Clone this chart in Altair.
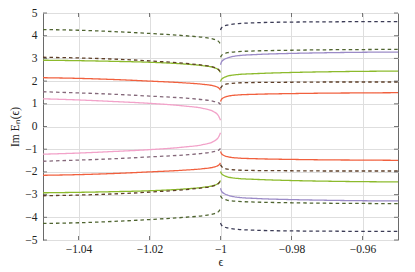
import altair as alt
import pandas as pd

# sample positions (epsilon)
eps_left = [-1.05, -1.04, -1.03, -1.02, -1.01, -1.005, -1.002, -1.0005, -1.0]
eps_right = [-1.0, -0.9997, -0.999, -0.998, -0.995, -0.99, -0.98, -0.97, -0.96, -0.95]

# left branch (epsilon < -1)
olive_left_up = [4.27, 4.24, 4.18, 4.10, 4.00, 3.93, 3.85, 3.74, 3.62]
olive_left_dn = [-4.27, -4.24, -4.18, -4.10, -4.00, -3.93, -3.85, -3.74, -3.62]
brown_left_up = [3.05, 3.02, 2.97, 2.89, 2.78, 2.70, 2.62, 2.50, 2.38]
brown_left_dn = [-3.05, -3.02, -2.97, -2.89, -2.78, -2.70, -2.62, -2.50, -2.38]
green_left_up = [2.92, 2.90, 2.87, 2.83, 2.75, 2.68, 2.60, 2.49, 2.38]
green_left_dn = [-2.92, -2.90, -2.87, -2.83, -2.75, -2.68, -2.60, -2.49, -2.38]
red_left_up = [2.15, 2.12, 2.07, 2.00, 1.92, 1.86, 1.79, 1.70, 1.60]
red_left_dn = [-2.15, -2.12, -2.07, -2.00, -1.92, -1.86, -1.79, -1.70, -1.60]
mauve_left_up = [1.53, 1.48, 1.42, 1.34, 1.25, 1.18, 1.11, 1.04, 0.97]
mauve_left_dn = [-1.53, -1.48, -1.42, -1.34, -1.25, -1.18, -1.11, -1.04, -0.97]
pink_left_up = [1.22, 1.17, 1.10, 1.02, 0.90, 0.80, 0.66, 0.45, 0.28]
pink_left_dn = [-1.22, -1.17, -1.10, -1.02, -0.90, -0.80, -0.66, -0.45, -0.28]

# right branch (epsilon > -1)
navy_right_up = [4.25, 4.35, 4.42, 4.47, 4.53, 4.57, 4.60, 4.61, 4.62, 4.62]
navy_right_dn = [-4.25, -4.35, -4.42, -4.47, -4.53, -4.57, -4.60, -4.61, -4.62, -4.62]
olive_right_up = [3.05, 3.13, 3.20, 3.25, 3.30, 3.33, 3.36, 3.38, 3.39, 3.40]
olive_right_dn = [-3.05, -3.13, -3.20, -3.25, -3.30, -3.33, -3.36, -3.38, -3.39, -3.40]
purple_right_up = [2.72, 2.85, 2.95, 3.02, 3.12, 3.17, 3.22, 3.25, 3.27, 3.28]
purple_right_dn = [-2.72, -2.85, -2.95, -3.02, -3.12, -3.17, -3.22, -3.25, -3.27, -3.28]
green_right_up = [1.98, 2.08, 2.16, 2.22, 2.29, 2.33, 2.38, 2.41, 2.43, 2.44]
green_right_dn = [-1.98, -2.08, -2.16, -2.22, -2.29, -2.33, -2.38, -2.41, -2.43, -2.44]
brown_right_up = [1.68, 1.76, 1.84, 1.88, 1.92, 1.94, 1.95, 1.96, 1.96, 1.96]
brown_right_dn = [-1.68, -1.76, -1.84, -1.88, -1.92, -1.94, -1.95, -1.96, -1.96, -1.96]
red_right_up = [1.10, 1.20, 1.28, 1.33, 1.39, 1.42, 1.45, 1.47, 1.48, 1.49]
red_right_dn = [-1.10, -1.20, -1.28, -1.33, -1.39, -1.42, -1.45, -1.47, -1.48, -1.49]

x_ticks = [-1.04, -1.02, -1.0, -0.98, -0.96]
y_ticks = [-5, -4, -3, -2, -1, 0, 1, 2, 3, 4, 5]

groups = ["red", "green", "purple", "pink", "brown", "olive", "mauve", "navy"]
colors = ["#f1603e", "#8cba2c", "#9b8bc7", "#f2a2c9", "#5e3f28", "#4f6430", "#84687a", "#3b3b55"]

curves = [
    ("pink_l_u", "pink", "solid", eps_left, pink_left_up),
    ("pink_l_d", "pink", "solid", eps_left, pink_left_dn),
    ("red_l_u", "red", "solid", eps_left, red_left_up),
    ("red_l_d", "red", "solid", eps_left, red_left_dn),
    ("green_l_u", "green", "solid", eps_left, green_left_up),
    ("green_l_d", "green", "solid", eps_left, green_left_dn),
    ("red_r_u", "red", "solid", eps_right, red_right_up),
    ("red_r_d", "red", "solid", eps_right, red_right_dn),
    ("green_r_u", "green", "solid", eps_right, green_right_up),
    ("green_r_d", "green", "solid", eps_right, green_right_dn),
    ("purple_r_u", "purple", "solid", eps_right, purple_right_up),
    ("purple_r_d", "purple", "solid", eps_right, purple_right_dn),
    ("mauve_l_u", "mauve", "dashed", eps_left, mauve_left_up),
    ("mauve_l_d", "mauve", "dashed", eps_left, mauve_left_dn),
    ("brown_l_u", "brown", "dashed", eps_left, brown_left_up),
    ("brown_l_d", "brown", "dashed", eps_left, brown_left_dn),
    ("olive_l_u", "olive", "dashed", eps_left, olive_left_up),
    ("olive_l_d", "olive", "dashed", eps_left, olive_left_dn),
    ("brown_r_u", "brown", "dashed", eps_right, brown_right_up),
    ("brown_r_d", "brown", "dashed", eps_right, brown_right_dn),
    ("olive_r_u", "olive", "dashed", eps_right, olive_right_up),
    ("olive_r_d", "olive", "dashed", eps_right, olive_right_dn),
    ("navy_r_u", "navy", "dashed", eps_right, navy_right_up),
    ("navy_r_d", "navy", "dashed", eps_right, navy_right_dn),
]

rows = []
for k, (cid, grp, style, xs, ys) in enumerate(curves):
    for i, (x, y) in enumerate(zip(xs, ys)):
        rows.append({"id": cid, "layer": k, "group": grp, "style": style,
                     "eps": x, "val": y, "i": i})
df = pd.DataFrame(rows)

W, H = 355, 227
FONT = "Liberation Serif"

xscale = alt.Scale(domain=[-1.05, -0.95], nice=False, zero=False)
yscale = alt.Scale(domain=[-5, 5], nice=False, zero=False)

xaxis = alt.Axis(values=x_ticks, format=".2~f", title="ϵ", grid=True,
                 gridColor="#dedede", ticks=False, domain=False,
                 labelOverlap=False, labelFlush=False,
                 labelFont=FONT, labelFontSize=11.5, labelColor="#222",
                 labelPadding=3, titleFont=FONT, titleFontSize=12,
                 titleFontWeight="normal", titleColor="#222", titlePadding=2)
yaxis = alt.Axis(values=y_ticks, format="d", title="Im Eₙ(ϵ)", grid=True,
                 gridColor="#dedede", ticks=False, domain=False,
                 labelOverlap=False, labelFlush=False,
                 labelFont=FONT, labelFontSize=11.5, labelColor="#222",
                 labelPadding=6, titleFont=FONT, titleFontSize=11.5,
                 titleFontWeight="normal", titleColor="#222", titlePadding=4)

lines = alt.Chart(df).mark_line(strokeWidth=1.3, interpolate="monotone", clip=True).encode(
    x=alt.X("eps:Q", scale=xscale, axis=xaxis),
    y=alt.Y("val:Q", scale=yscale, axis=yaxis),
    color=alt.Color("group:N", scale=alt.Scale(domain=groups, range=colors), legend=None),
    strokeDash=alt.StrokeDash("style:N", scale=alt.Scale(domain=["solid", "dashed"],
                                                          range=[[1, 0], [3.5, 3]]), legend=None),
    detail="id:N",
    order="i:Q",
)

xt = pd.DataFrame({"eps": x_ticks})
yt = pd.DataFrame({"val": y_ticks})
tick_color = "#555"
xt_bottom = alt.Chart(xt).mark_rule(color=tick_color, strokeWidth=0.8).encode(
    x=alt.X("eps:Q", scale=xscale, axis=xaxis), y=alt.value(H), y2=alt.value(H - 4))
xt_top = alt.Chart(xt).mark_rule(color=tick_color, strokeWidth=0.8).encode(
    x=alt.X("eps:Q", scale=xscale, axis=xaxis), y=alt.value(0), y2=alt.value(4))
yt_left = alt.Chart(yt).mark_rule(color=tick_color, strokeWidth=0.8).encode(
    y=alt.Y("val:Q", scale=yscale, axis=yaxis), x=alt.value(0), x2=alt.value(4))
yt_right = alt.Chart(yt).mark_rule(color=tick_color, strokeWidth=0.8).encode(
    y=alt.Y("val:Q", scale=yscale, axis=yaxis), x=alt.value(W - 4), x2=alt.value(W))

chart = alt.layer(lines, xt_bottom, xt_top, yt_left, yt_right).properties(
    width=W, height=H,
    autosize=alt.AutoSizeParams(type="none"),
    padding={"left": 35, "top": 5, "right": 9, "bottom": 32},
).configure_view(stroke="#6a6a6a", strokeWidth=1)

chart.save("out.html", embed_options={"renderer": "svg", "actions": False})
